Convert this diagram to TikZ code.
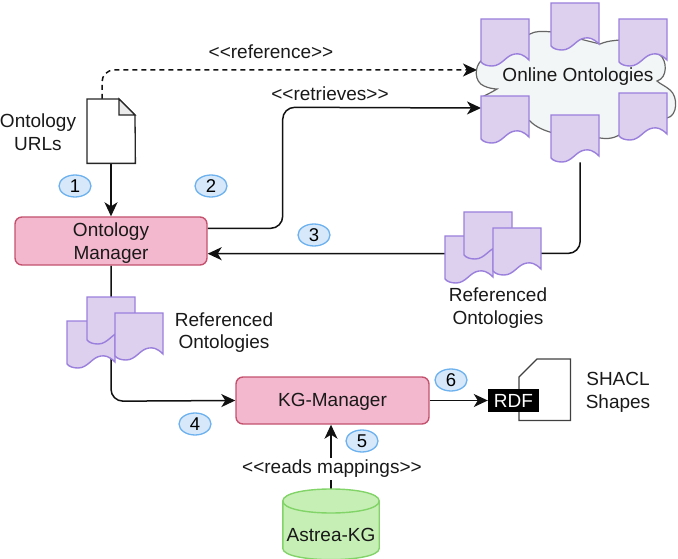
\documentclass[tikz,border=0pt]{standalone}
\usepackage{fontspec}
\setmainfont{Liberation Sans}
\usetikzlibrary{arrows.meta,shapes.geometric,calc}
\pgfdeclarelayer{behind}
\pgfsetlayers{behind,main}
\definecolor{docfill}{HTML}{DCD0EE}
\definecolor{docline}{HTML}{9A80DC}
\definecolor{boxfill}{HTML}{F3B8CE}
\definecolor{boxline}{HTML}{C4526F}
\definecolor{badgefill}{HTML}{D6E8FA}
\definecolor{badgeline}{HTML}{6DB1EE}
\definecolor{cylfill}{HTML}{C6EFB6}
\definecolor{cylline}{HTML}{82D468}
\definecolor{cloudfill}{HTML}{F3F6F6}
\definecolor{inkline}{HTML}{111111}
\tikzset{
  txt/.style={font=\fontsize{19}{22.5}\selectfont,align=center,inner sep=0pt,text=black!90},
  procbox/.style={draw=boxline,fill=boxfill,line width=1.4pt,rounded corners=7pt,inner sep=0pt},
  badge/.style={ellipse,draw=badgeline,fill=badgefill,line width=1.3pt,minimum width=32pt,minimum height=22pt,inner sep=0pt,font=\fontsize{18.5}{20}\selectfont},
  conn/.style={draw=inkline,line width=1.5pt,-{Stealth[length=14pt,width=13pt,inset=4pt]},rounded corners=12pt},
  anchorbox/.style={inner sep=0pt,minimum width=48pt,minimum height=47pt,anchor=north west},
  docpath/.style={draw=docline,fill=docfill,line width=1.4pt,line join=miter},
}
% name, left, top
\newcommand{\wavedoc}[3]{%
  \node[anchorbox] (#1) at (#2,#3) {};
  \path[docpath,shift={(#2,#3)}] (0,0) -- (48,0) -- (48,41)
    .. controls (42,35) and (38,34.5) .. (34,35)
    .. controls (25,36) and (21,47) .. (11,47)
    .. controls (6,47) and (2,45.5) .. (0,43) -- cycle;
}
\begin{document}
\begin{tikzpicture}[x=1pt,y=-1pt]
\useasboundingbox (0,0) rectangle (678,559);
% cloud
\path[draw=black!60,fill=cloudfill,line width=1.2pt]
  (482,60) .. controls (474,66) and (474,82) .. (484,86)
  .. controls (488,88) and (494,89) .. (497,89)
  .. controls (492,92) and (488,94) .. (484,96)
  -- (530,121)
  .. controls (540,132) and (565,138) .. (600,138)
  .. controls (612,140) and (618,136) .. (624,132)
  -- (667,118)
  .. controls (678,116) and (678,96) .. (670,90)
  .. controls (664,85) and (660,84) .. (657,81)
  .. controls (668,78) and (667,60) .. (660,55)
  -- (620,40)
  .. controls (608,41) and (605,42) .. (600,44)
  -- (552,32)
  .. controls (542,31) and (535,31) .. (530,34) -- cycle;
\node[txt] (cloudlbl) at (578,77) {Online Ontologies};
\coordinate (cloudwest) at (477,70);
% wave documents in the cloud
\wavedoc{dA}{481}{19}
\wavedoc{dB}{551}{3}
\wavedoc{dC}{619}{19}
\wavedoc{dD}{481}{96}
\wavedoc{dE}{551}{115}
\wavedoc{dF}{619}{93}
% URL file
\node[inner sep=0pt,minimum width=48pt,minimum height=64pt,anchor=north west] (url) at (87,99) {};
\path[draw=black!85,fill=white,line width=1.3pt,line join=miter] (url.north west) -- ++(32,0) -- ++(16,16) -- (url.south east) -- (url.south west) -- cycle;
\path[draw=black!85,fill=black!8,line width=1.3pt,line join=miter] ($(url.north west)+(32,0)$) -- ++(16,16) -- ++(-16,0) -- cycle;
\node[txt] (urllbl) at (38,132) {Ontology\\URLs};
% process boxes
\node[procbox,minimum width=192pt,minimum height=48pt] (om) at (111,241) {};
\node[txt] (omlbl) at (111,243) {Ontology\\Manager};
\node[procbox,minimum width=193pt,minimum height=47pt] (kg) at (332.5,400.5) {};
\node[txt] (kglbl) at (332.5,401.5) {KG-Manager};
% referenced ontologies, right
\wavedoc{rA}{445}{236}
\wavedoc{rB}{464}{212}
\wavedoc{rC}{493}{228}
\node[txt] (rlbl) at (498,308) {Referenced\\Ontologies};
% referenced ontologies, left
\wavedoc{lA}{67}{321}
\wavedoc{lB}{87}{297}
\wavedoc{lC}{115}{313}
\node[txt] (llbl) at (224,332.5) {Referenced\\Ontologies};
% RDF document
\node[inner sep=0pt,minimum width=51pt,minimum height=61pt,anchor=north west] (shacl) at (519,359) {};
\path[draw=black!75,fill=white,line width=1.3pt,line join=miter] ($(shacl.north west)+(18,0)$) -- (shacl.north east) -- (shacl.south east) -- (shacl.south west) -- ($(shacl.north west)+(0,18)$) -- cycle;
\node[fill=black,text=white,inner sep=0pt,minimum width=51pt,minimum height=23pt,font=\fontsize{19}{22}\selectfont] (rdf) at (513.5,400.5) {RDF};
\node[txt] (shlbl) at (618,392.5) {SHACL\\Shapes};
% database
\node[inner sep=0pt,minimum width=96pt,minimum height=70pt,anchor=north] (db) at (331,489) {};
\path[draw=cylline,fill=cylfill,line width=1.4pt]
  ($(db.north west)+(0,12)$) .. controls ($(db.north west)+(0,-4)$) and ($(db.north east)+(0,-4)$) .. ($(db.north east)+(0,12)$)
  -- ($(db.south east)+(0,-11)$) .. controls ($(db.south east)+(0,4)$) and ($(db.south west)+(0,4)$) .. ($(db.south west)+(0,-11)$) -- cycle;
\path[draw=cylline,line width=1.4pt]
  ($(db.north west)+(0,12)$) .. controls ($(db.north west)+(0,28)$) and ($(db.north east)+(0,28)$) .. ($(db.north east)+(0,12)$);
\node[txt] (dblbl) at (331,535) {Astrea-KG};
\node[txt,fill=white,inner xsep=1pt,inner ysep=2pt] (mapl) at (332,469) {<{}<reads mappings>{}>};
% labels
\node[txt] (reflbl) at (271,52) {<{}<reference>{}>};
\node[txt] (retlbl) at (330,94) {<{}<retrieves>{}>};
% badges
\node[badge] (b1) at (75,186) {1};
\node[badge] (b2) at (211,186) {2};
\node[badge] (b3) at (314,235) {3};
\node[badge] (b4) at (195,424) {4};
\node[badge] (b5) at (362,441) {5};
\node[badge] (b6) at (451,380) {6};
% connectors
\begin{pgfonlayer}{behind}
\draw[conn] (url.south -| om.north) -- (om.north);
\draw[conn,dash pattern=on 5pt off 4pt] ($(url.north west)+(15,0)$) -- ++(0,-29) -- (cloudwest);
\draw[conn] ($(om.north east)+(0,12)$) -- ++(75,0) -- ++(0,-121) -- ($(dD.north west)+(0,12)$);
\draw[conn] ($(dE.south)+(5,0)$) -- ++(0,91) -- ($(om.south east)+(0,-12)$);
\draw[conn] (om.south) -- ($(om.south)+(0,135.5)$) -- (kg.west);
\draw[conn] (kg.east) -- (rdf.west);
\draw[conn] (db.north) -- (db.north |- kg.south);
\end{pgfonlayer}
\end{tikzpicture}
\end{document}
